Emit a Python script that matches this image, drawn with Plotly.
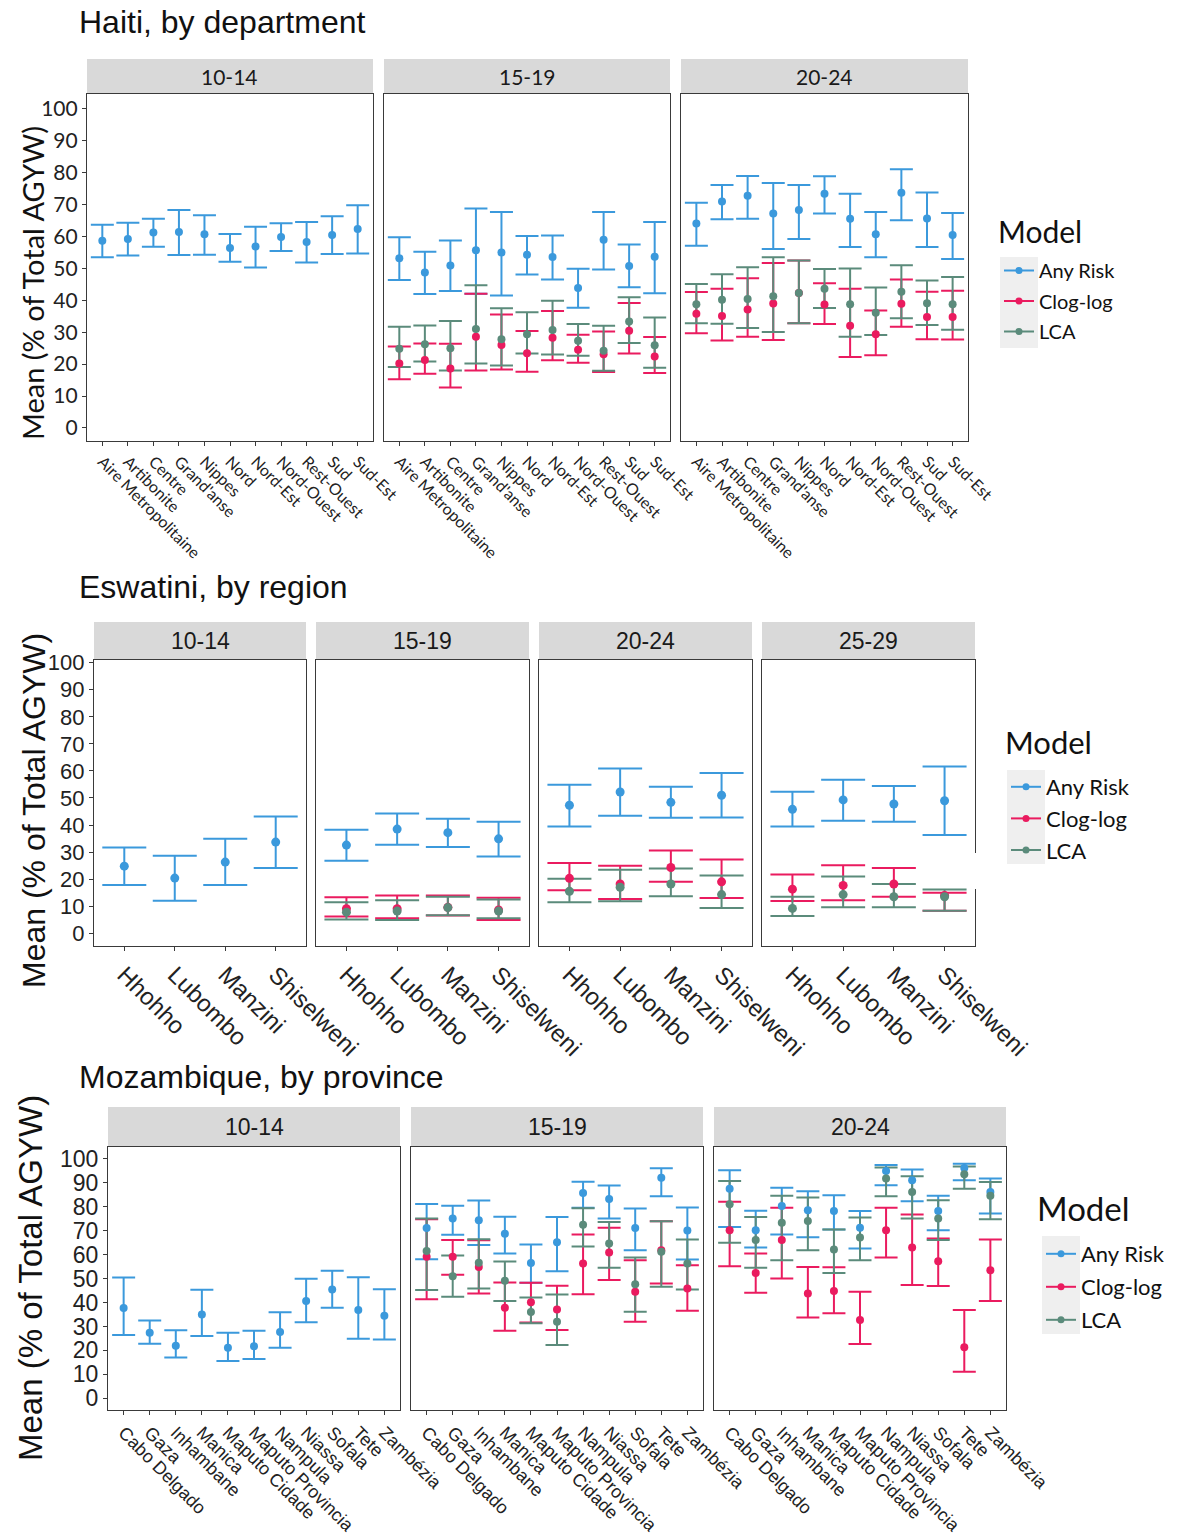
import plotly.graph_objects as go

# ---------------- categories / facets ----------------
HT_CATS = ["Aire Metropolitaine", "Artibonite", "Centre", "Grand'anse", "Nippes", "Nord",
           "Nord-Est", "Nord-Ouest", "Rest-Ouest", "Sud", "Sud-Est"]
SZ_CATS = ["Hhohho", "Lubombo", "Manzini", "Shiselweni"]
MZ_CATS = ["Cabo Delgado", "Gaza", "Inhambane", "Manica", "Maputo Cidade", "Maputo Provincia",
           "Nampula", "Niassa", "Sofala", "Tete", "Zambézia"]
HT_AGES = ["10-14", "15-19", "20-24"]
SZ_AGES = ["10-14", "15-19", "20-24", "25-29"]
MZ_AGES = ["10-14", "15-19", "20-24"]
MODELS = ["Any Risk", "Clog-log", "LCA"]
Y_TICKS = [0, 10, 20, 30, 40, 50, 60, 70, 80, 90, 100]

# ---------------- Haiti ----------------
HT_1014_ANY_MEAN = [58.7, 59.2, 61.3, 61.4, 60.7, 56.4, 56.9, 59.9, 58.3, 60.5, 62.4]
HT_1014_ANY_LO = [53.5, 54.1, 56.8, 54.2, 54.3, 52.1, 50.3, 55.5, 51.9, 54.5, 54.7]
HT_1014_ANY_HI = [63.7, 64.3, 65.6, 68.3, 66.7, 60.8, 63.1, 64.2, 64.6, 66.4, 69.8]

HT_1519_ANY_MEAN = [53.2, 48.7, 50.9, 55.7, 55.0, 54.3, 53.6, 43.9, 59.0, 50.8, 53.7]
HT_1519_ANY_LO = [46.4, 42.0, 42.9, 42.1, 41.5, 48.1, 46.5, 37.7, 49.7, 44.1, 42.2]
HT_1519_ANY_HI = [59.8, 55.2, 58.8, 68.8, 67.7, 60.2, 60.3, 49.9, 67.7, 57.5, 64.6]
HT_1519_CLOG_MEAN = [20.2, 21.3, 18.6, 28.6, 26.0, 23.4, 28.3, 24.5, 23.1, 30.5, 22.4]
HT_1519_CLOG_LO = [15.3, 17.0, 12.7, 18.0, 18.3, 17.6, 21.2, 20.4, 17.5, 23.3, 17.2]
HT_1519_CLOG_HI = [25.5, 26.5, 26.4, 42.1, 35.6, 30.4, 36.7, 29.2, 30.2, 39.2, 28.5]
HT_1519_LCA_MEAN = [24.8, 26.2, 25.0, 31.0, 27.8, 29.4, 30.7, 27.3, 24.2, 33.4, 25.9]
HT_1519_LCA_LO = [19.1, 20.8, 18.0, 20.2, 19.6, 23.3, 23.0, 22.6, 17.9, 26.6, 18.9]
HT_1519_LCA_HI = [31.7, 32.1, 33.5, 44.7, 37.5, 36.3, 39.9, 32.6, 32.0, 41.0, 34.6]

HT_2024_ANY_MEAN = [64.1, 71.0, 72.8, 67.2, 68.3, 73.4, 65.6, 60.7, 73.7, 65.7, 60.5]
HT_2024_ANY_LO = [57.1, 65.4, 65.6, 56.1, 59.2, 67.2, 56.7, 53.5, 65.1, 56.7, 53.0]
HT_2024_ANY_HI = [70.6, 76.2, 79.0, 76.8, 76.2, 78.9, 73.4, 67.7, 81.1, 73.8, 67.4]
HT_2024_CLOG_MEAN = [35.8, 35.1, 37.1, 39.0, 42.3, 38.7, 32.0, 29.4, 38.9, 34.8, 34.8]
HT_2024_CLOG_LO = [29.7, 27.4, 28.6, 27.6, 32.8, 32.6, 22.2, 22.8, 31.7, 27.8, 27.7]
HT_2024_CLOG_HI = [42.6, 43.6, 46.9, 51.7, 52.5, 45.4, 43.6, 36.8, 46.5, 42.7, 43.0]
HT_2024_LCA_MEAN = [38.8, 40.2, 40.4, 41.3, 42.3, 43.6, 38.8, 36.1, 42.7, 39.1, 38.8]
HT_2024_LCA_LO = [32.8, 32.7, 31.3, 30.1, 32.8, 37.6, 28.6, 29.1, 34.4, 32.3, 30.8]
HT_2024_LCA_HI = [45.1, 48.2, 50.4, 53.5, 52.5, 49.8, 50.0, 44.0, 51.0, 46.2, 47.3]

# ---------------- Eswatini ----------------
SZ_1014_ANY_MEAN = [24.8, 20.4, 26.3, 33.7]
SZ_1014_ANY_LO = [17.8, 12.0, 17.8, 24.1]
SZ_1014_ANY_HI = [31.7, 28.7, 34.9, 43.2]

SZ_1519_ANY_MEAN = [32.6, 38.5, 37.2, 34.9]
SZ_1519_ANY_LO = [26.8, 32.7, 31.9, 28.4]
SZ_1519_ANY_HI = [38.3, 44.3, 42.3, 41.2]
SZ_1519_CLOG_MEAN = [9.1, 9.1, 9.6, 8.6]
SZ_1519_CLOG_LO = [6.2, 5.6, 6.6, 4.9]
SZ_1519_CLOG_HI = [13.3, 14.0, 14.0, 13.1]
SZ_1519_LCA_MEAN = [7.8, 8.2, 9.5, 8.2]
SZ_1519_LCA_LO = [5.1, 4.9, 6.7, 5.6]
SZ_1519_LCA_HI = [11.5, 12.2, 13.5, 12.5]

SZ_2024_ANY_MEAN = [47.3, 52.2, 48.4, 51.0]
SZ_2024_ANY_LO = [39.5, 43.4, 42.7, 42.8]
SZ_2024_ANY_HI = [54.9, 60.9, 54.2, 59.2]
SZ_2024_CLOG_MEAN = [20.3, 18.2, 24.3, 19.0]
SZ_2024_CLOG_LO = [15.9, 12.7, 19.0, 13.0]
SZ_2024_CLOG_HI = [26.0, 25.0, 30.6, 27.3]
SZ_2024_LCA_MEAN = [15.5, 17.0, 18.2, 14.3]
SZ_2024_LCA_LO = [11.5, 11.8, 13.7, 9.3]
SZ_2024_LCA_HI = [20.2, 23.5, 23.9, 21.4]

SZ_2529_ANY_MEAN = [45.8, 49.3, 47.8, 49.0]
SZ_2529_ANY_LO = [39.5, 41.6, 41.2, 36.3]
SZ_2529_ANY_HI = [52.3, 56.7, 54.4, 61.6]
SZ_2529_CLOG_MEAN = [16.3, 17.7, 18.2, 14.0]
SZ_2529_CLOG_LO = [11.9, 12.2, 13.5, 8.3]
SZ_2529_CLOG_HI = [21.7, 25.1, 24.1, 15.0]
SZ_2529_LCA_MEAN = [9.2, 14.3, 13.5, 13.5]
SZ_2529_LCA_LO = [6.4, 9.6, 9.6, 8.3]
SZ_2529_LCA_HI = [13.5, 21.0, 18.2, 16.2]

# ---------------- Mozambique ----------------
MZ_1014_ANY_MEAN = [37.7, 27.4, 22.0, 35.0, 21.1, 21.7, 27.7, 40.6, 45.5, 36.9, 34.5]
MZ_1014_ANY_LO = [26.4, 22.8, 17.0, 26.0, 15.6, 16.4, 21.1, 31.8, 37.8, 24.9, 24.6]
MZ_1014_ANY_HI = [50.5, 32.5, 28.4, 45.3, 27.4, 28.2, 35.9, 49.9, 53.3, 50.6, 45.6]

MZ_1519_ANY_MEAN = [71.2, 75.1, 74.4, 68.7, 56.5, 65.2, 85.8, 83.3, 71.2, 92.2, 70.1]
MZ_1519_ANY_LO = [58.1, 68.3, 64.0, 60.5, 48.3, 53.1, 79.6, 75.1, 61.9, 84.4, 58.0]
MZ_1519_ANY_HI = [81.2, 80.5, 82.6, 75.9, 64.3, 75.7, 90.5, 88.9, 79.3, 96.1, 79.7]
MZ_1519_CLOG_MEAN = [59.1, 59.1, 54.9, 37.8, 40.1, 37.1, 56.3, 60.9, 44.5, 61.9, 45.9]
MZ_1519_CLOG_LO = [41.4, 51.6, 43.8, 28.2, 31.7, 28.5, 43.5, 49.4, 32.0, 48.0, 36.6]
MZ_1519_CLOG_HI = [74.8, 66.1, 66.0, 48.4, 48.3, 47.0, 68.4, 71.3, 57.7, 74.0, 55.6]
MZ_1519_LCA_MEAN = [61.5, 51.0, 56.6, 49.1, 36.0, 32.0, 72.5, 64.7, 47.6, 61.2, 56.3]
MZ_1519_LCA_LO = [45.2, 42.4, 45.9, 40.6, 31.3, 22.3, 63.4, 54.5, 36.2, 46.6, 45.5]
MZ_1519_LCA_HI = [75.1, 59.7, 66.5, 57.2, 42.1, 43.4, 79.4, 73.7, 58.8, 74.0, 66.3]

MZ_2024_ANY_MEAN = [87.6, 70.2, 80.3, 78.6, 78.3, 71.3, 95.0, 91.1, 78.3, 96.2, 86.2]
MZ_2024_ANY_LO = [71.6, 63.0, 68.4, 67.3, 70.5, 62.6, 89.0, 82.3, 70.2, 91.1, 77.2]
MZ_2024_ANY_HI = [95.3, 78.4, 88.0, 86.5, 84.8, 78.3, 97.5, 95.6, 84.6, 98.0, 91.8]
MZ_2024_CLOG_MEAN = [70.2, 52.4, 66.1, 43.8, 44.8, 32.7, 70.2, 63.0, 57.3, 21.3, 53.5]
MZ_2024_CLOG_LO = [55.2, 44.1, 50.1, 33.8, 35.5, 22.7, 58.8, 47.3, 46.9, 11.1, 40.6]
MZ_2024_CLOG_HI = [82.1, 60.5, 79.6, 54.9, 54.7, 44.5, 79.6, 76.8, 66.8, 36.9, 66.3]
MZ_2024_LCA_MEAN = [81.1, 66.1, 73.3, 74.1, 62.2, 67.2, 91.8, 86.2, 75.1, 93.6, 84.6]
MZ_2024_LCA_LO = [65.0, 54.5, 57.7, 61.9, 52.4, 57.7, 84.4, 75.1, 66.1, 87.6, 74.8]
MZ_2024_LCA_HI = [90.8, 75.8, 84.6, 83.9, 70.5, 75.5, 96.4, 92.8, 82.8, 96.9, 90.4]

# ---------------- styling ----------------
W, H = 1184, 1538
COLORS = {"Any Risk": "#3b99dc", "Clog-log": "#ea1b5f", "LCA": "#5b8b7b"}
LATO = "Lato"
ARIAL = "Liberation Sans, Arial"


def px(x):
    return x / W


def py(y):
    return 1 - y / H


countries = [
    dict(key="ht", title="Haiti, by department", title_y=22, cats=HT_CATS, ages=HT_AGES,
         series=[
             [("Any Risk", HT_1014_ANY_MEAN, HT_1014_ANY_LO, HT_1014_ANY_HI)],
             [("Any Risk", HT_1519_ANY_MEAN, HT_1519_ANY_LO, HT_1519_ANY_HI),
              ("Clog-log", HT_1519_CLOG_MEAN, HT_1519_CLOG_LO, HT_1519_CLOG_HI),
              ("LCA", HT_1519_LCA_MEAN, HT_1519_LCA_LO, HT_1519_LCA_HI)],
             [("Any Risk", HT_2024_ANY_MEAN, HT_2024_ANY_LO, HT_2024_ANY_HI),
              ("Clog-log", HT_2024_CLOG_MEAN, HT_2024_CLOG_LO, HT_2024_CLOG_HI),
              ("LCA", HT_2024_LCA_MEAN, HT_2024_LCA_LO, HT_2024_LCA_HI)],
         ],
         xs=[(87, 373), (384, 670), (681, 968)], ys=(94, 441), strip=(59, 93),
         yrange=[-4.1, 104.7], capw=11.5, msize=8,
         font=LATO, strip_size=21, ytick_size=21, xtick_size=16,
         ytitle_size=29, ytitle_x=32, ytitle_y=283,
         legend=dict(name="legend", x=999, y=251, item_size=20, gap=1.5,
                     title_x=996, title_y=231, title_size=30,
                     box=(1000, 1038, 257, 348))),
    dict(key="sz", title="Eswatini, by region", title_y=587, cats=SZ_CATS, ages=SZ_AGES,
         series=[
             [("Any Risk", SZ_1014_ANY_MEAN, SZ_1014_ANY_LO, SZ_1014_ANY_HI)],
             [("Any Risk", SZ_1519_ANY_MEAN, SZ_1519_ANY_LO, SZ_1519_ANY_HI),
              ("Clog-log", SZ_1519_CLOG_MEAN, SZ_1519_CLOG_LO, SZ_1519_CLOG_HI),
              ("LCA", SZ_1519_LCA_MEAN, SZ_1519_LCA_LO, SZ_1519_LCA_HI)],
             [("Any Risk", SZ_2024_ANY_MEAN, SZ_2024_ANY_LO, SZ_2024_ANY_HI),
              ("Clog-log", SZ_2024_CLOG_MEAN, SZ_2024_CLOG_LO, SZ_2024_CLOG_HI),
              ("LCA", SZ_2024_LCA_MEAN, SZ_2024_LCA_LO, SZ_2024_LCA_HI)],
             [("Any Risk", SZ_2529_ANY_MEAN, SZ_2529_ANY_LO, SZ_2529_ANY_HI),
              ("Clog-log", SZ_2529_CLOG_MEAN, SZ_2529_CLOG_LO, SZ_2529_CLOG_HI),
              ("LCA", SZ_2529_LCA_MEAN, SZ_2529_LCA_LO, SZ_2529_LCA_HI)],
         ],
         xs=[(94, 306), (316, 529), (539, 752), (762, 975)], ys=(660, 946), strip=(622, 659),
         yrange=[-4.7, 101.0], capw=22, msize=9,
         font=ARIAL, strip_size=23, ytick_size=22, xtick_size=24,
         ytitle_size=32, ytitle_x=34, ytitle_y=811,
         legend=dict(name="legend2", x=1006, y=766, item_size=22, gap=0,
                     title_x=1003, title_y=742, title_size=31,
                     box=(1007, 1045, 770, 864))),
    dict(key="mz", title="Mozambique, by province", title_y=1077, cats=MZ_CATS, ages=MZ_AGES,
         series=[
             [("Any Risk", MZ_1014_ANY_MEAN, MZ_1014_ANY_LO, MZ_1014_ANY_HI)],
             [("Any Risk", MZ_1519_ANY_MEAN, MZ_1519_ANY_LO, MZ_1519_ANY_HI),
              ("Clog-log", MZ_1519_CLOG_MEAN, MZ_1519_CLOG_LO, MZ_1519_CLOG_HI),
              ("LCA", MZ_1519_LCA_MEAN, MZ_1519_LCA_LO, MZ_1519_LCA_HI)],
             [("Any Risk", MZ_2024_ANY_MEAN, MZ_2024_ANY_LO, MZ_2024_ANY_HI),
              ("Clog-log", MZ_2024_CLOG_MEAN, MZ_2024_CLOG_LO, MZ_2024_CLOG_HI),
              ("LCA", MZ_2024_LCA_MEAN, MZ_2024_LCA_LO, MZ_2024_LCA_HI)],
         ],
         xs=[(108, 400), (411, 703), (714, 1006)], ys=(1147, 1410), strip=(1107, 1146),
         yrange=[-4.9, 105.0], capw=11.5, msize=8,
         font=ARIAL, strip_size=23, ytick_size=23, xtick_size=18,
         ytitle_size=33, ytitle_x=30, ytitle_y=1278,
         legend=dict(name="legend3", x=1041, y=1233, item_size=22, gap=1.4,
                     title_x=1035, title_y=1208, title_size=33,
                     box=(1042, 1080, 1236, 1334))),
]

fig = go.Figure()
layout = {}
shapes = []
annotations = []
idx = 0

for c in countries:
    n = len(c["cats"])
    first_axis = None
    for pi, age in enumerate(c["ages"]):
        idx += 1
        xa = "x" if idx == 1 else f"x{idx}"
        ya = "y" if idx == 1 else f"y{idx}"
        xk = "xaxis" if idx == 1 else f"xaxis{idx}"
        yk = "yaxis" if idx == 1 else f"yaxis{idx}"
        if first_axis is None:
            first_axis = (xa, ya)
        x0, x1 = c["xs"][pi]
        y0, y1 = c["ys"]
        layout[xk] = dict(domain=[px(x0), px(x1)], anchor=ya, type="category",
                          categoryorder="array", categoryarray=c["cats"],
                          range=[-0.6, n - 0.4], showline=True, mirror=True,
                          linecolor="#3a3a3a", linewidth=1.2, ticks="outside", ticklen=4,
                          tickcolor="#3a3a3a", tickangle=45, showgrid=False, zeroline=False,
                          automargin=False,
                          tickfont=dict(family=c["font"], size=c["xtick_size"], color="#222"),
                          fixedrange=True)
        first = pi == 0
        layout[yk] = dict(domain=[py(y1), py(y0)], anchor=xa, range=c["yrange"],
                          tickmode="array", tickvals=Y_TICKS, showticklabels=first,
                          ticks="outside" if first else "", ticklen=4, tickcolor="#3a3a3a",
                          showline=True, mirror=True, linecolor="#3a3a3a", linewidth=1.2,
                          showgrid=False, zeroline=False, automargin=False,
                          tickfont=dict(family=c["font"], size=c["ytick_size"], color="#222"),
                          fixedrange=True)
        # strip
        s0, s1 = c["strip"]
        shapes.append(dict(type="rect", xref="paper", yref="paper", x0=px(x0), x1=px(x1),
                           y0=py(s1), y1=py(s0), fillcolor="#d9d9d9", line=dict(width=0),
                           layer="below"))
        annotations.append(dict(xref="paper", yref="paper", x=px((x0 + x1) / 2),
                                y=py((s0 + s1) / 2), text=age, showarrow=False,
                                xanchor="center", yanchor="middle",
                                font=dict(family=c["font"], size=c["strip_size"], color="#1a1a1a")))
        # error bars first, then points (as in ggplot layer order)
        for model, mean, lo, hi in c["series"][pi]:
            col = COLORS[model]
            fig.add_trace(go.Scatter(
                x=c["cats"], y=mean, mode="markers", xaxis=xa, yaxis=ya,
                marker=dict(size=1, opacity=0, color=col),
                error_y=dict(type="data", symmetric=False,
                             array=[h - m for h, m in zip(hi, mean)],
                             arrayminus=[m - l for m, l in zip(mean, lo)],
                             color=col, thickness=2, width=c["capw"]),
                showlegend=False, hoverinfo="skip"))
        for model, mean, lo, hi in c["series"][pi]:
            col = COLORS[model]
            fig.add_trace(go.Scatter(
                x=c["cats"], y=mean, mode="markers", xaxis=xa, yaxis=ya,
                marker=dict(size=c["msize"], color=col), name=model,
                showlegend=False))
    # legend entries
    lg = c["legend"]
    for model in MODELS:
        fig.add_trace(go.Scatter(
            x=[None], y=[None], mode="lines+markers", xaxis=first_axis[0], yaxis=first_axis[1],
            line=dict(color=COLORS[model], width=2), marker=dict(size=7, color=COLORS[model]),
            name=model, legend=lg["name"], legendgroup=f"{c['key']}_{model}", showlegend=True))
    layout[lg["name"]] = dict(
        x=px(lg["x"]), y=py(lg["y"]), xanchor="left", yanchor="top",
        bgcolor="rgba(0,0,0,0)", traceorder="grouped", tracegroupgap=lg["gap"],
        font=dict(family=LATO, size=lg["item_size"], color="#111"))
    annotations.append(dict(xref="paper", yref="paper", x=px(lg["title_x"]), y=py(lg["title_y"]),
                            text="Model", showarrow=False, xanchor="left", yanchor="middle",
                            font=dict(family=LATO, size=lg["title_size"], color="#111")))
    bx0, bx1, by0, by1 = lg["box"]
    shapes.append(dict(type="rect", xref="paper", yref="paper", x0=px(bx0), x1=px(bx1),
                       y0=py(by1), y1=py(by0), fillcolor="#efefef", line=dict(width=0),
                       layer="below"))
    # country title
    annotations.append(dict(xref="paper", yref="paper", x=px(77), y=py(c["title_y"]),
                            text=c["title"], showarrow=False, xanchor="left", yanchor="middle",
                            font=dict(family=ARIAL, size=32, color="#111")))
    # y-axis title
    annotations.append(dict(xref="paper", yref="paper", x=px(c["ytitle_x"]), y=py(c["ytitle_y"]),
                            text="Mean (% of Total AGYW)", showarrow=False, textangle=-90,
                            xanchor="center", yanchor="middle",
                            font=dict(family=c["font"], size=c["ytitle_size"], color="#111")))

# small white patch that interrupts the Eswatini 25-29 panel border in the original
shapes.append(dict(type="rect", xref="paper", yref="paper", x0=px(971), x1=px(1001),
                   y0=py(889), y1=py(853), fillcolor="white", line=dict(width=0), layer="above"))

fig.update_layout(template="none", width=W, height=H, margin=dict(l=0, r=0, t=0, b=0, pad=0),
                  autosize=False, paper_bgcolor="white", plot_bgcolor="white",
                  shapes=shapes, annotations=annotations, **layout)
fig.write_html("out.html", config={"displayModeBar": False},
               post_script="document.body.style.margin='0px';")
